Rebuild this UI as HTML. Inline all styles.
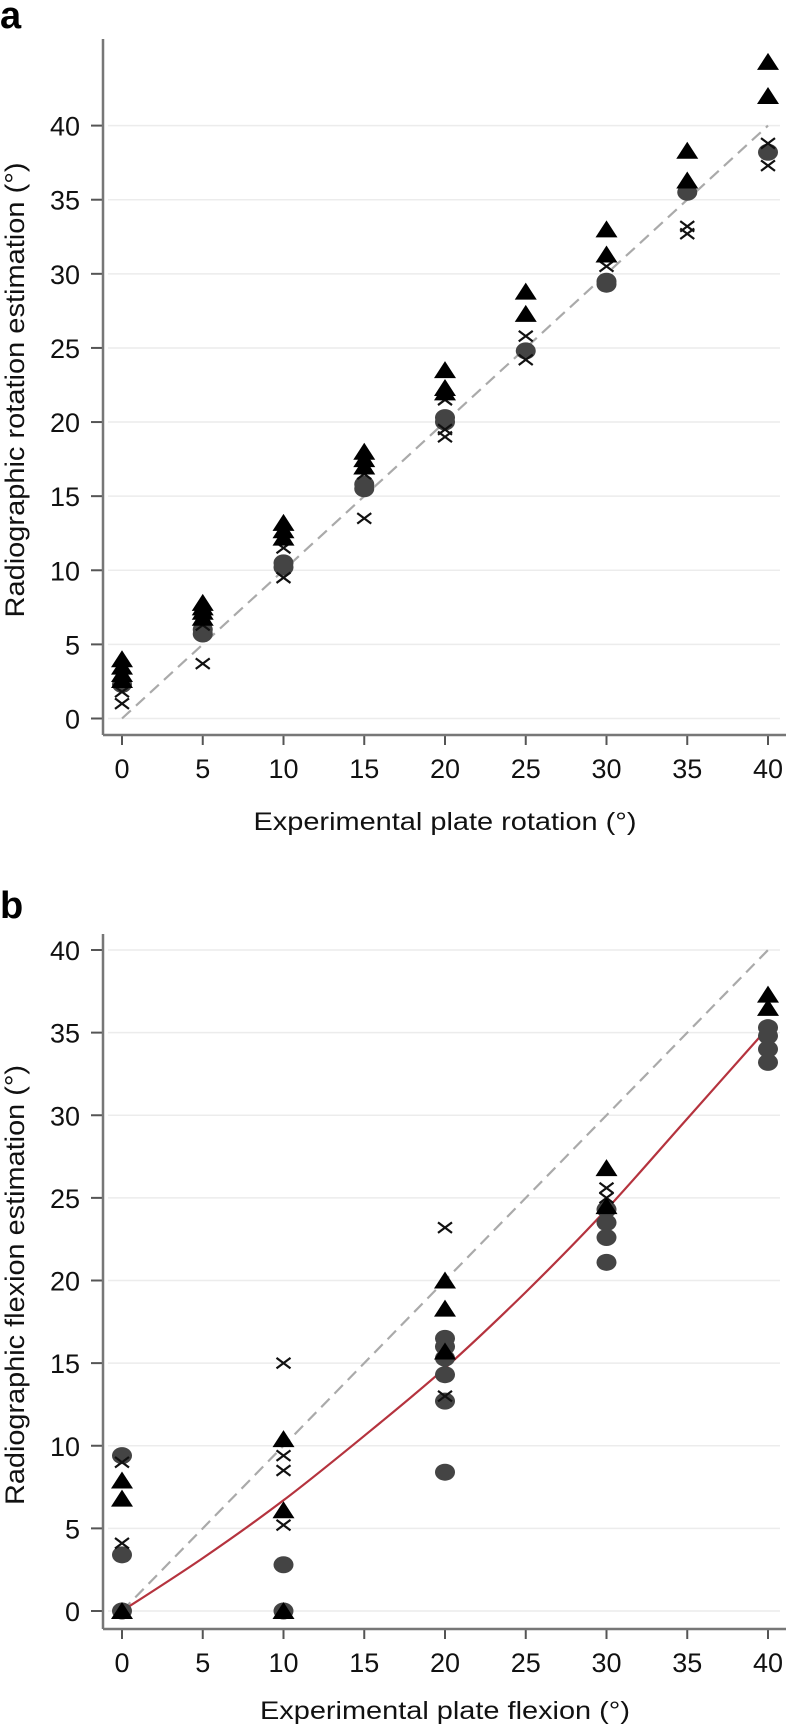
<!DOCTYPE html>
<html><head><meta charset="utf-8">
<style>
html,body{margin:0;padding:0;background:#fff;}
svg{display:block;font-family:"Liberation Sans",sans-serif;}
</style></head>
<body>
<svg id="fig" width="792" height="1728" viewBox="0 0 792 1728" xmlns="http://www.w3.org/2000/svg"></svg>
<script>
// ---------- Panel a data ----------
const aCats = [0,5,10,15,20,25,30,35,40];
const aTriangles = [[4.0,3.5,3.0,2.6],[7.8,7.5,7.2,6.8],[13.2,12.7,12.2],[18.0,17.5,17.0],[23.5,22.3,22.0],[28.8,27.3],[33.0,31.3],[38.3,36.3],[44.3,42.0]];
const aCircles = [[2.3],[6.0,5.7],[10.5,10.2],[15.8,15.5],[20.3,20.0],[24.8],[29.5,29.3],[35.5],[38.2]];
const aCrosses = [[1.0,1.8,2.5],[3.7,6.3],[11.5,9.5],[13.5,16.5],[21.5,19.5,19.0],[25.8,24.2],[30.5],[33.2,32.7],[38.8,37.3]];
const aYTicks = [0,5,10,15,20,25,30,35,40];
const aXTicks = [0,5,10,15,20,25,30,35,40];
// ---------- Panel b data ----------
const bCats = [0,10,20,30,40];
const bTriangles = [[7.9,6.8,0],[10.4,6.1,0],[20.0,18.3,15.7],[26.8,24.5],[37.3,36.5]];
const bCircles = [[9.4,3.4,0],[2.8,0],[16.5,16.0,15.3,14.3,12.7,8.4],[24.3,23.5,22.6,21.1],[35.3,34.8,34.0,33.2]];
const bCrosses = [[4.1,9.0],[15.0,9.4,8.5,5.2],[23.2,13.0],[25.6,25.0],[]];
const bFitX = [0,5,10,15,20,25,30,35,40];
const bFitY = [0,3.2,6.7,10.6,14.7,19.3,24.3,29.8,35.3];
const bYTicks = [0,5,10,15,20,25,30,35,40];
const bXTicks = [0,5,10,15,20,25,30,35,40];

const NS="http://www.w3.org/2000/svg";
const svg=document.getElementById('fig');
function mk(tag,attrs,parent){const e=document.createElementNS(NS,tag);for(const k in attrs)e.setAttribute(k,attrs[k]);(parent||svg).appendChild(e);return e;}

function panel(cfg){
  const g=mk('g',{});
  
  
  const sx=v=>122+(v/40)*(768-122);
  const sy=v=>cfg.y0+(v/40)*(cfg.y40-cfg.y0);
  const L=mk('text',{x:0,y:cfg.letterY,'font-size':38,'font-weight':'bold',fill:'#000'},g);
  L.textContent=cfg.letter;
  
  
  cfg.yTicks.forEach(t=>{
    const gl=mk('line',{x1:108,x2:780,y1:sy(t),y2:sy(t),stroke:'#ececec','stroke-width':1.5},g);
    
    
    const tk=mk('line',{x1:91,x2:103,y1:sy(t),y2:sy(t),stroke:'#555','stroke-width':2},g);
    
    
    const tl=mk('text',{x:80,y:sy(t)+10,'font-size':27,'text-anchor':'end',fill:'#111'},g);
    tl.textContent=t;
    
    
  });
  cfg.xTicks.forEach(t=>{
    const tk=mk('line',{x1:sx(t),x2:sx(t),y1:cfg.xAxisY,y2:cfg.xAxisY+10,stroke:'#555','stroke-width':2},g);
    
    
    const tl=mk('text',{x:sx(t),y:cfg.xAxisY+43,'font-size':27,'text-anchor':'middle',fill:'#111'},g);
    tl.textContent=t;
    
    
  });
  const ya=mk('line',{x1:103,x2:103,y1:cfg.axisTop,y2:cfg.xAxisY,stroke:'#777','stroke-width':2.5},g);
  
  
  const xa=mk('line',{x1:103,x2:786,y1:cfg.xAxisY,y2:cfg.xAxisY,stroke:'#777','stroke-width':2.5},g);
  
  
  const xt=mk('text',{x:445,y:cfg.xTitleY,'font-size':25,'text-anchor':'middle',fill:'#111',textLength:cfg.xTitleLen,lengthAdjust:'spacingAndGlyphs'},g);
  xt.textContent=cfg.xTitle;
  
  
  const yt=mk('text',{x:0,y:0,'font-size':27,'text-anchor':'middle',fill:'#111',textLength:cfg.yTitleLen,lengthAdjust:'spacingAndGlyphs',transform:`translate(24,${cfg.yTitleC}) rotate(-90)`},g);
  yt.textContent=cfg.yTitle;
  
  
  const id=mk('line',{x1:sx(0),y1:sy(0),x2:sx(40),y2:sy(40),stroke:'#aaa','stroke-width':2.2,'stroke-dasharray':'12,7'},g);
  
  
  if(cfg.fitX){
    const P=cfg.fitX.map((x,i)=>[sx(x),sy(cfg.fitY[i])]);
    let d='M'+P[0][0].toFixed(1)+','+P[0][1].toFixed(1);
    for(let i=0;i<P.length-1;i++){
      const p0=P[i-1]||P[i],p1=P[i],p2=P[i+1],p3=P[i+2]||P[i+1];
      const c1=[p1[0]+(p2[0]-p0[0])/6,p1[1]+(p2[1]-p0[1])/6];
      const c2=[p2[0]-(p3[0]-p1[0])/6,p2[1]-(p3[1]-p1[1])/6];
      d+=`C${c1[0].toFixed(1)},${c1[1].toFixed(1)} ${c2[0].toFixed(1)},${c2[1].toFixed(1)} ${p2[0].toFixed(1)},${p2[1].toFixed(1)}`;
    }
    const fc=mk('path',{d:d,fill:'none',stroke:'#b5333e','stroke-width':2.2},g);
    
    
  }
  cfg.cats.forEach((c,i)=>{
    cfg.circles[i].forEach(v=>{
      const e=mk('ellipse',{cx:sx(c),cy:sy(v),rx:10,ry:8.5,fill:'#444'},g);
      
      
    });
    cfg.crosses[i].forEach(v=>{
      const x=sx(c),y=sy(v),s=7;
      const p=mk('path',{d:`M${x-s},${y-s*0.75}L${x+s},${y+s*0.75}M${x-s},${y+s*0.75}L${x+s},${y-s*0.75}`,stroke:'#111','stroke-width':2.2,fill:'none'},g);
      
      
    });
    cfg.triangles[i].forEach(v=>{
      const x=sx(c),y=sy(v);
      const p=mk('polygon',{points:`${x-11},${y+8} ${x+11},${y+8} ${x},${y-9}`,fill:'#000'},g);
      
      
    });
  });
}

panel({name:'panel-a',letter:'a',letterY:28,y0:718.5,y40:125.6,axisTop:39,xAxisY:735,xTitleY:830,
  xTitle:'Experimental plate rotation (°)',xTitleLen:383,yTitle:'Radiographic rotation estimation (°)',yTitleLen:455,yTitleC:390,
  yTicks:aYTicks,xTicks:aXTicks,cats:aCats,triangles:aTriangles,circles:aCircles,crosses:aCrosses});
panel({name:'panel-b',letter:'b',letterY:918,y0:1611,y40:950,axisTop:934,xAxisY:1629,xTitleY:1719,
  xTitle:'Experimental plate flexion (°)',xTitleLen:370,yTitle:'Radiographic flexion estimation (°)',yTitleLen:440,yTitleC:1285,
  yTicks:bYTicks,xTicks:bXTicks,cats:bCats,triangles:bTriangles,circles:bCircles,crosses:bCrosses,fitX:bFitX,fitY:bFitY});
</script>
</body></html>
